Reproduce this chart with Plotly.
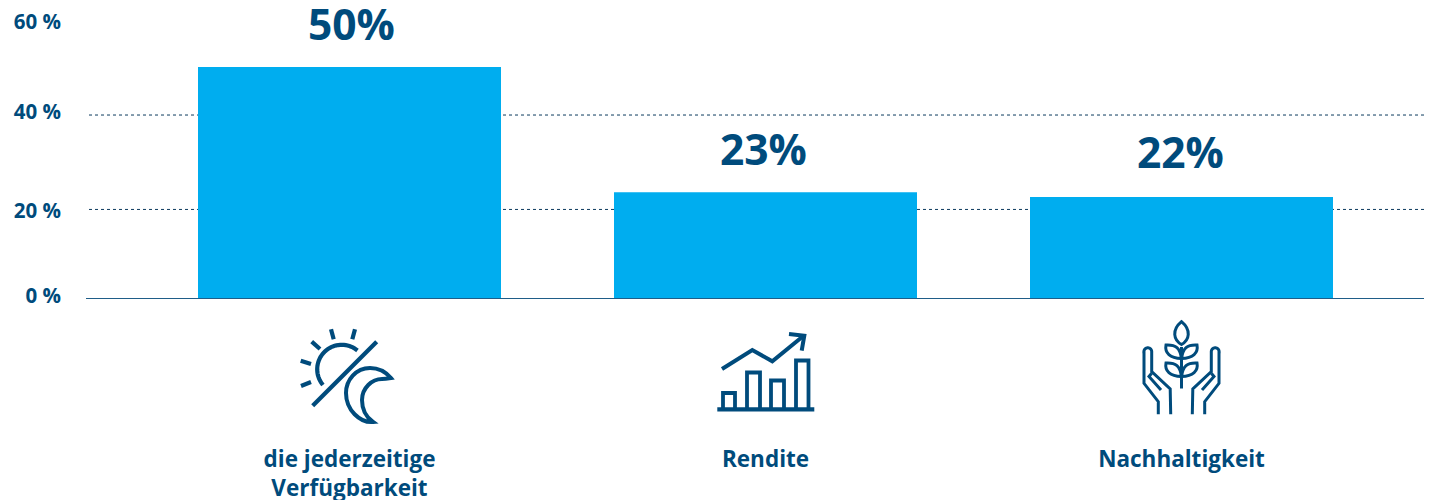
import numpy as np
import plotly.graph_objects as go

categories = ["die jederzeitige<br>Verfügbarkeit", "Rendite", "Nachhaltigkeit"]
values = [50, 23, 22]
value_labels = ["50%", "23%", "22%"]
tick_positions = [0.6, 19.0, 40.3, 59.7]
tick_labels = ["0 %", "20 %", "40 %", "60 %"]
grid_positions = [19.3, 39.65]

NAVY = "#004b7c"
BLUE = "#00adef"
PAGE_PAD = 8            # the page's own body margin
L, B, W = 86, 299, 1338  # plot box in page pixels
PX_PER_UNIT = 4.64
FIG_W, FIG_H = 1437 - PAGE_PAD, 500 - PAGE_PAD
PLOT_H = B - PAGE_PAD


def ox(x):
    return round(x - L, 2)


def oy(y):
    return round(B - y, 2)


def poly(pts, closed=False):
    s = "M" + " L".join(f"{ox(x)},{oy(y)}" for x, y in pts)
    return s + (" Z" if closed else "")


def arc(cx, cy, r, a0, a1, n=40):
    return [(cx + r * np.cos(a), cy + r * np.sin(a)) for a in np.radians(np.linspace(a0, a1, n))]


def cubic(segments):
    s = f"M{ox(segments[0][0])},{oy(segments[0][1])}"
    for seg in segments[1:]:
        s += " C" + " ".join(f"{ox(x)},{oy(y)}" for x, y in seg)
    return s


def mirror(pts, c=1181.5):
    return [(2 * c - x, y) for x, y in pts]


icon_paths = []
# sun / moon
for p in [
    [(311.7, 341.7), (320, 349)],
    [(331, 329.3), (333.7, 339.3)],
    [(355, 329.3), (352.3, 339.3)],
    [(300.7, 360.7), (311, 364)],
    [(301, 386), (311, 382)],
    [(376.7, 341.7), (312.7, 405.7)],
    arc(341.7, 369.3, 24.5, 140, 310),
]:
    icon_paths.append((poly(p), 4.2))
icon_paths.append((cubic([
    (391, 378),
    [(385, 371), (378, 368), (370, 368)],
    [(356, 368), (346, 380), (346, 393)],
    [(346, 410), (360, 423), (373, 422)],
    [(366, 417), (362, 409), (362, 400)],
    [(362, 388), (372, 379), (382, 379)],
    [(385, 379), (388, 378.5), (391, 378)],
]) + " Z", 4.0))
# growth chart
icon_paths.append((poly([(717.3, 409.3), (814.3, 409.3)]), 4.2))
for x0, x1, top in [(723, 735, 393), (747, 760, 372.5), (771, 784, 380.5), (796, 808.5, 360.5)]:
    icon_paths.append((poly([(x0, 409), (x0, top), (x1, top), (x1, 409)]), 3.8))
icon_paths.append((poly([(722, 369), (752.3, 350), (772.3, 361.3), (803.3, 336)]), 4.0))
icon_paths.append((poly([(789, 334), (804.3, 335.7), (801.7, 350.7)]), 4.0))
# plant in hands
icon_paths.append((poly([(1181.5, 388.5), (1181.5, 347)]), 3.0))
icon_paths.append((cubic([
    (1181.5, 321.7),
    [(1171.5, 330), (1173.5, 340), (1181.5, 344.5)],
    [(1189.5, 340), (1191.5, 330), (1181.5, 321.7)],
]) + " Z", 3.0))
for dy in (0, 18):
    for side in (1, -1):
        fx = (lambda x: x) if side == 1 else (lambda x: 2 * 1181.5 - x)
        icon_paths.append((cubic([
            (fx(1181.5), 358.5 + dy),
            [(fx(1180), 348 + dy), (fx(1176), 344.5 + dy), (fx(1166), 345 + dy)],
            [(fx(1164.5), 353 + dy), (fx(1170), 358 + dy), (fx(1181.5), 358.5 + dy)],
        ]) + " Z", 3.0))
hand = [(1158.3, 414.3), (1158.3, 401.7), (1144, 383.3), (1144, 351.7)] + arc(1147.8, 351.7, 3.9, 180, 360) + [
    (1151.7, 371.7), (1170.2, 389), (1170.7, 414.3)]
finger = [(1151.7, 373.3), (1149, 376.5), (1161, 390)]
for p in (hand, finger):
    icon_paths.append((poly(p), 3.0))
    icon_paths.append((poly(mirror(p)), 3.0))

fig = go.Figure(go.Bar(
    x=list(range(3)), y=values, width=303 / 416, marker=dict(color=BLUE, line_width=0),
    hoverinfo="skip",
))

shapes = [
    dict(type="line", xref="paper", yref="y", x0=3 / W, x1=1, y0=g, y1=g, layer="below",
         line=dict(color="#0c3a5e", width=1, dash="3px,3px"))
    for g in grid_positions
]
shapes.append(dict(type="line", xref="paper", yref="y", x0=0, x1=1, y0=0, y1=0,
                   line=dict(color="#1f5d88", width=2)))
shapes += [
    dict(type="path", xref="paper", yref="paper", xsizemode="pixel", ysizemode="pixel",
         xanchor=0, yanchor=0, path=p, line=dict(color=NAVY, width=w), fillcolor="rgba(0,0,0,0)")
    for p, w in icon_paths
]

annotations = [
    dict(x=i, y=v, text=f"<b>{t}</b>", showarrow=False, yanchor="bottom", yshift=ys, xshift=xs,
         font=dict(family="Open Sans", size=42.5, color=NAVY))
    for i, (v, t, xs, ys) in enumerate(zip(values, value_labels, [2, -2, -1], [13, 13, 15]))
]

fig.update_layout(
    width=FIG_W, height=FIG_H, autosize=False,
    margin=dict(l=L - PAGE_PAD, r=FIG_W - (L - PAGE_PAD) - W, t=0, b=FIG_H - PLOT_H, pad=0),
    paper_bgcolor="white", plot_bgcolor="white", showlegend=False,
    shapes=shapes, annotations=annotations,
    xaxis=dict(
        automargin=False,
        range=[-(349.5 - L) / 416, (L + W - 349.5) / 416],
        tickmode="array", tickvals=list(range(3)),
        ticktext=[f"<b>{c.replace('<br>', '</b><br><b>')}</b>" for c in categories],
        tickfont=dict(family="Open Sans", size=22.5, color=NAVY),
        ticklabelstandoff=144, ticks="", showgrid=False, zeroline=False, tickangle=0,
        showline=False, ticklabeloverflow="allow",
    ),
    yaxis=dict(
        automargin=False,
        range=[0, PLOT_H / PX_PER_UNIT],
        tickmode="array", tickvals=tick_positions,
        ticktext=[f"<b>{t}</b>" for t in tick_labels],
        tickfont=dict(family="Open Sans", size=20.5, color=NAVY),
        ticklabelstandoff=24, ticks="", showgrid=False, zeroline=False, showline=False,
        ticklabeloverflow="allow",
    ),
)

fig.write_html("out.html", config={"displayModeBar": False})
